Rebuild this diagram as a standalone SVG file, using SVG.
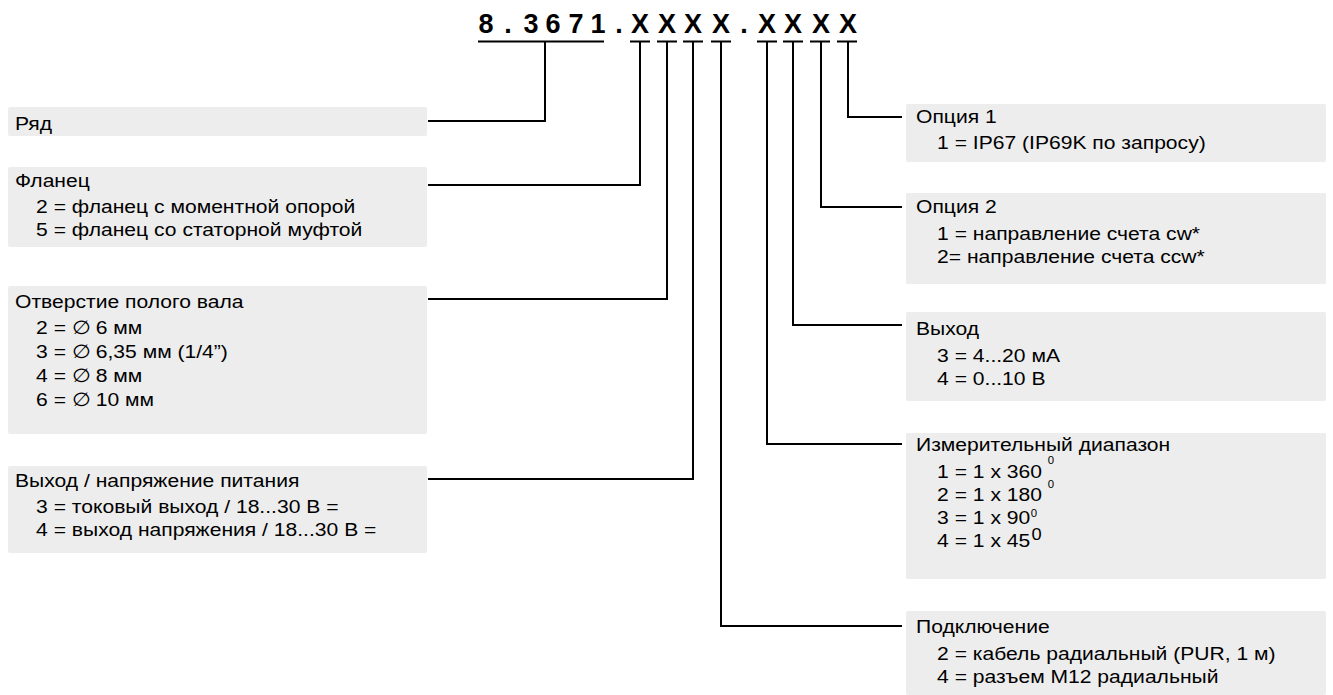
<svg xmlns="http://www.w3.org/2000/svg" width="1333" height="695" viewBox="0 0 1333 695">
<style>
.box{fill:#ededed;}
.t{font-family:"Liberation Sans",Arial,sans-serif;font-size:18.5px;fill:#000;}
.sup{font-size:10px;}
.title{font-family:"Liberation Sans",Arial,sans-serif;font-size:27px;font-weight:bold;fill:#000;text-anchor:middle;}
.ln{fill:none;stroke:#000;stroke-width:2;}
</style>
<rect width="1333" height="695" fill="#fff"/>
<g id="title">
<text class="title" y="33" x="486 508 531 553 576 598 619 640 667 693 721 744 767 793 821 848">8.3671.XXXX.XXXX</text>
</g>
<g id="connectors" class="ln">
<path d="M478 41.5H604M630 41.5H650M657 41.5H677M683 41.5H703M711 41.5H731M757 41.5H777M783 41.5H803M810 41.5H830M837 41.5H857"/>
<path d="M545 42V121H428"/>
<path d="M640 42V185H428"/>
<path d="M667 42V299H428"/>
<path d="M693 42V479H428"/>
<path d="M721 42V626H902"/>
<path d="M767 42V444H902"/>
<path d="M793 42V325H902"/>
<path d="M821 42V207H902"/>
<path d="M848 42V117H902"/>
</g>
<g id="node-ryad">
<rect class="box" x="8" y="107" width="419" height="29" rx="2"/>
<text class="t" transform="translate(15 130) scale(1.14 1)"><tspan x="0" y="0">Ряд</tspan></text>
</g>
<g id="node-flanec">
<rect class="box" x="8" y="167" width="419" height="80" rx="2"/>
<text class="t" transform="translate(15 187) scale(1.14 1)"><tspan x="0" y="0">Фланец</tspan><tspan x="18.5" y="26.5">2 = фланец с моментной опорой</tspan><tspan x="18.5" y="49.5">5 = фланец со статорной муфтой</tspan></text>
</g>
<g id="node-otverstie">
<rect class="box" x="8" y="286" width="419" height="148" rx="2"/>
<text class="t" transform="translate(15 308) scale(1.14 1)"><tspan x="0" y="0">Отверстие полого вала</tspan><tspan x="18.5" y="26.5">2 = ∅ 6 мм</tspan><tspan x="18.5" y="50">3 = ∅ 6,35 мм (1/4”)</tspan><tspan x="18.5" y="74">4 = ∅ 8 мм</tspan><tspan x="18.5" y="98">6 = ∅ 10 мм</tspan></text>
</g>
<g id="node-vyhod-pitanie">
<rect class="box" x="8" y="466" width="419" height="87" rx="2"/>
<text class="t" transform="translate(15 487) scale(1.14 1)"><tspan x="0" y="0">Выход / напряжение питания</tspan><tspan x="18.5" y="26.5">3 = токовый выход / 18...30 В =</tspan><tspan x="18.5" y="49.5">4 = выход напряжения / 18...30 В =</tspan></text>
</g>
<g id="node-opciya1">
<rect class="box" x="906" y="104" width="420" height="58" rx="2"/>
<text class="t" transform="translate(916 123) scale(1.14 1)"><tspan x="0" y="0">Опция 1</tspan><tspan x="18.5" y="26">1 = IP67 (IP69K по запросу)</tspan></text>
</g>
<g id="node-opciya2">
<rect class="box" x="906" y="193" width="420" height="91" rx="2"/>
<text class="t" transform="translate(916 213) scale(1.14 1)"><tspan x="0" y="0">Опция 2</tspan><tspan x="18.5" y="27">1 = направление счета cw*</tspan><tspan x="18.5" y="50">2= направление счета ccw*</tspan></text>
</g>
<g id="node-vyhod">
<rect class="box" x="906" y="312" width="420" height="89" rx="2"/>
<text class="t" transform="translate(916 335) scale(1.14 1)"><tspan x="0" y="0">Выход</tspan><tspan x="18.5" y="27">3 = 4...20 мА</tspan><tspan x="18.5" y="50">4 = 0...10 В</tspan></text>
</g>
<g id="node-diapazon">
<rect class="box" x="906" y="433" width="420" height="146" rx="2"/>
<text class="t" transform="translate(916 451) scale(1.14 1)"><tspan x="0" y="0">Измерительный диапазон</tspan><tspan x="18.5" y="27">1 = 1 x 360</tspan><tspan class="sup" dx="5" y="13">0</tspan><tspan x="18.5" y="50">2 = 1 x 180</tspan><tspan class="sup" dx="5" y="37">0</tspan><tspan x="18.5" y="73">3 = 1 x 90</tspan><tspan class="sup" dx="0.5" y="66">0</tspan><tspan x="18.5" y="96">4 = 1 x 45</tspan><tspan dx="1" y="89" style="font-size:16px">0</tspan></text>
</g>
<g id="node-podklyuchenie">
<rect class="box" x="906" y="611" width="420" height="84" rx="2"/>
<text class="t" transform="translate(916 633) scale(1.14 1)"><tspan x="0" y="0">Подключение</tspan><tspan x="18.5" y="27">2 = кабель радиальный (PUR, 1 м)</tspan><tspan x="18.5" y="50">4 = разъем M12 радиальный</tspan></text>
</g>
</svg>
